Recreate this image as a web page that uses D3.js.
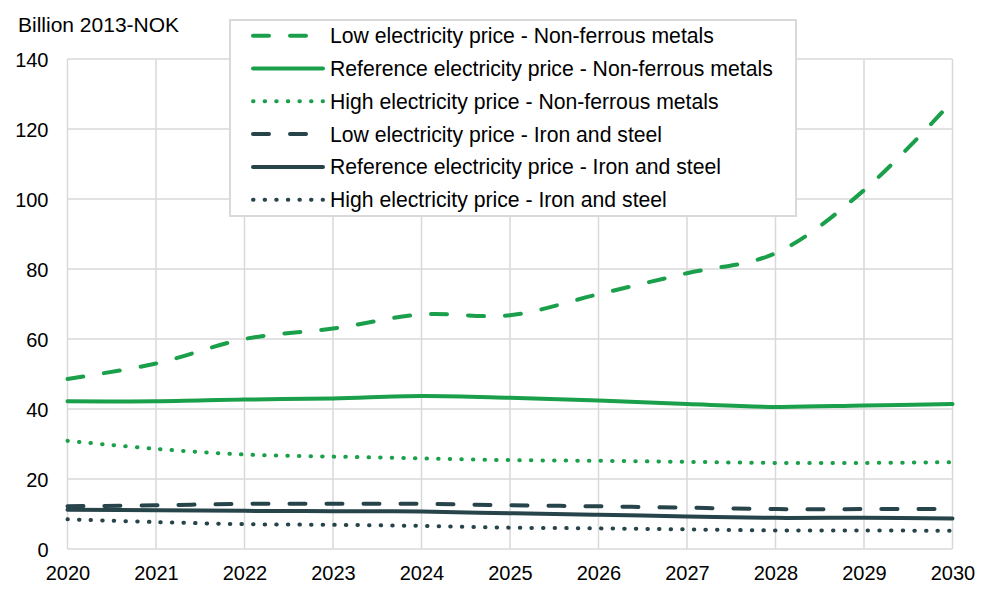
<!DOCTYPE html>
<html>
<head>
<meta charset="utf-8">
<script src="https://cdn.jsdelivr.net/npm/d3@7"></script>
<style>
  body { margin: 0; background: #fff; }
  svg text { font-family: "Liberation Sans", Arial, sans-serif; fill: #000; }
</style>
</head>
<body>
<svg id="chart"></svg>
<script>
// data
var years = [2020, 2021, 2022, 2023, 2024, 2025, 2026, 2027, 2028, 2029, 2030];
var lowNonFerrous  = [48.6, 53.0, 60.0, 63.0, 67.0, 66.8, 72.8, 78.8, 84.5, 102.5, 128.0];
var refNonFerrous  = [42.2, 42.2, 42.7, 43.0, 43.7, 43.2, 42.4, 41.4, 40.6, 41.0, 41.4];
var highNonFerrous = [30.9, 28.6, 27.0, 26.4, 25.9, 25.4, 25.2, 24.9, 24.6, 24.6, 24.8];
var lowIronSteel   = [12.2, 12.5, 12.9, 12.9, 12.9, 12.5, 12.2, 11.8, 11.4, 11.4, 11.4];
var refIronSteel   = [11.2, 11.1, 10.9, 10.8, 10.7, 10.2, 9.8, 9.3, 8.9, 8.9, 8.7];
var highIronSteel  = [8.5, 7.7, 7.1, 6.9, 6.6, 6.1, 5.9, 5.6, 5.3, 5.3, 5.2];
var yTicks = [0, 20, 40, 60, 80, 100, 120, 140];

var green = "#1a9f4a", dark = "#27444a";
var dashed = "16,21", dotted = "0.5,11.1";

var series = [
  {name: "Low electricity price - Non-ferrous metals", values: lowNonFerrous, color: green, dash: dashed},
  {name: "Reference electricity price - Non-ferrous metals", values: refNonFerrous, color: green, dash: null},
  {name: "High electricity price - Non-ferrous metals", values: highNonFerrous, color: green, dash: dotted},
  {name: "Low electricity price - Iron and steel", values: lowIronSteel, color: dark, dash: dashed},
  {name: "Reference electricity price - Iron and steel", values: refIronSteel, color: dark, dash: null},
  {name: "High electricity price - Iron and steel", values: highIronSteel, color: dark, dash: dotted}
];

var W = 993, H = 592;
var margin = {top: 59, right: 40, bottom: 43, left: 67.5},
    width = 952.5 - margin.left,
    height = 549 - margin.top;

var svg = d3.select("#chart").attr("width", W).attr("height", H);
var g = svg.append("g").attr("transform", "translate(" + margin.left + "," + margin.top + ")");

var x = d3.scaleLinear().domain([2020, 2030]).range([0, width]);
var y = d3.scaleLinear().domain([0, 140]).range([height, 0]);

// grid
g.append("g")
  .selectAll("line.h")
  .data(yTicks)
  .enter().append("line")
    .attr("x1", 0).attr("x2", width)
    .attr("y1", function(d) { return y(d); })
    .attr("y2", function(d) { return y(d); })
    .style("stroke", "#d9d9d9").style("stroke-width", 1.5);

g.append("g")
  .selectAll("line.v")
  .data(years)
  .enter().append("line")
    .attr("x1", function(d) { return x(d); })
    .attr("x2", function(d) { return x(d); })
    .attr("y1", 0).attr("y2", height)
    .style("stroke", "#d9d9d9").style("stroke-width", 1.5);

// axes
var xAxis = d3.axisBottom(x).tickValues(years).tickFormat(d3.format("d")).tickSize(0).tickPadding(17);
var yAxis = d3.axisLeft(y).tickValues(yTicks).tickSize(0).tickPadding(19);

g.append("g")
  .attr("transform", "translate(0," + height + ")")
  .call(xAxis)
  .call(function(s) { s.select(".domain").remove(); })
  .selectAll("text").style("font-size", "20px");

g.append("g")
  .call(yAxis)
  .call(function(s) { s.select(".domain").remove(); })
  .selectAll("text").style("font-size", "20px").attr("dy", "0.35em");

svg.append("text")
  .attr("x", 18).attr("y", 31.5)
  .style("font-size", "21px")
  .text("Billion 2013-NOK");

// lines
var line = d3.line()
  .x(function(d, i) { return x(years[i]); })
  .y(function(d) { return y(d); })
  .curve(d3.curveCatmullRom.alpha(0.5));

g.selectAll("path.series")
  .data(series.slice().reverse())
  .enter().append("path")
    .attr("class", "series")
    .attr("d", function(d) { return line(d.values); })
    .style("fill", "none")
    .style("stroke", function(d) { return d.color; })
    .style("stroke-width", 4)
    .style("stroke-linecap", "round")
    .style("stroke-dasharray", function(d) { return d.dash; });

// legend
var legend = svg.append("g").attr("transform", "translate(230,20)");
legend.append("rect")
  .attr("width", 566).attr("height", 196)
  .style("fill", "#fff").style("stroke", "#d9d9d9").style("stroke-width", 2);

var items = legend.selectAll("g.item")
  .data(series)
  .enter().append("g")
    .attr("transform", function(d, i) { return "translate(0," + (15.7 + i * 32.8) + ")"; });

items.append("line")
  .attr("x1", 23).attr("x2", 93)
  .style("stroke", function(d) { return d.color; })
  .style("stroke-width", 4)
  .style("stroke-linecap", "round")
  .style("stroke-dasharray", function(d) { return d.dash; });

items.append("text")
  .attr("x", 100).attr("dy", "0.35em")
  .style("font-size", "21.2px")
  .text(function(d) { return d.name; });
</script>
</body>
</html>
